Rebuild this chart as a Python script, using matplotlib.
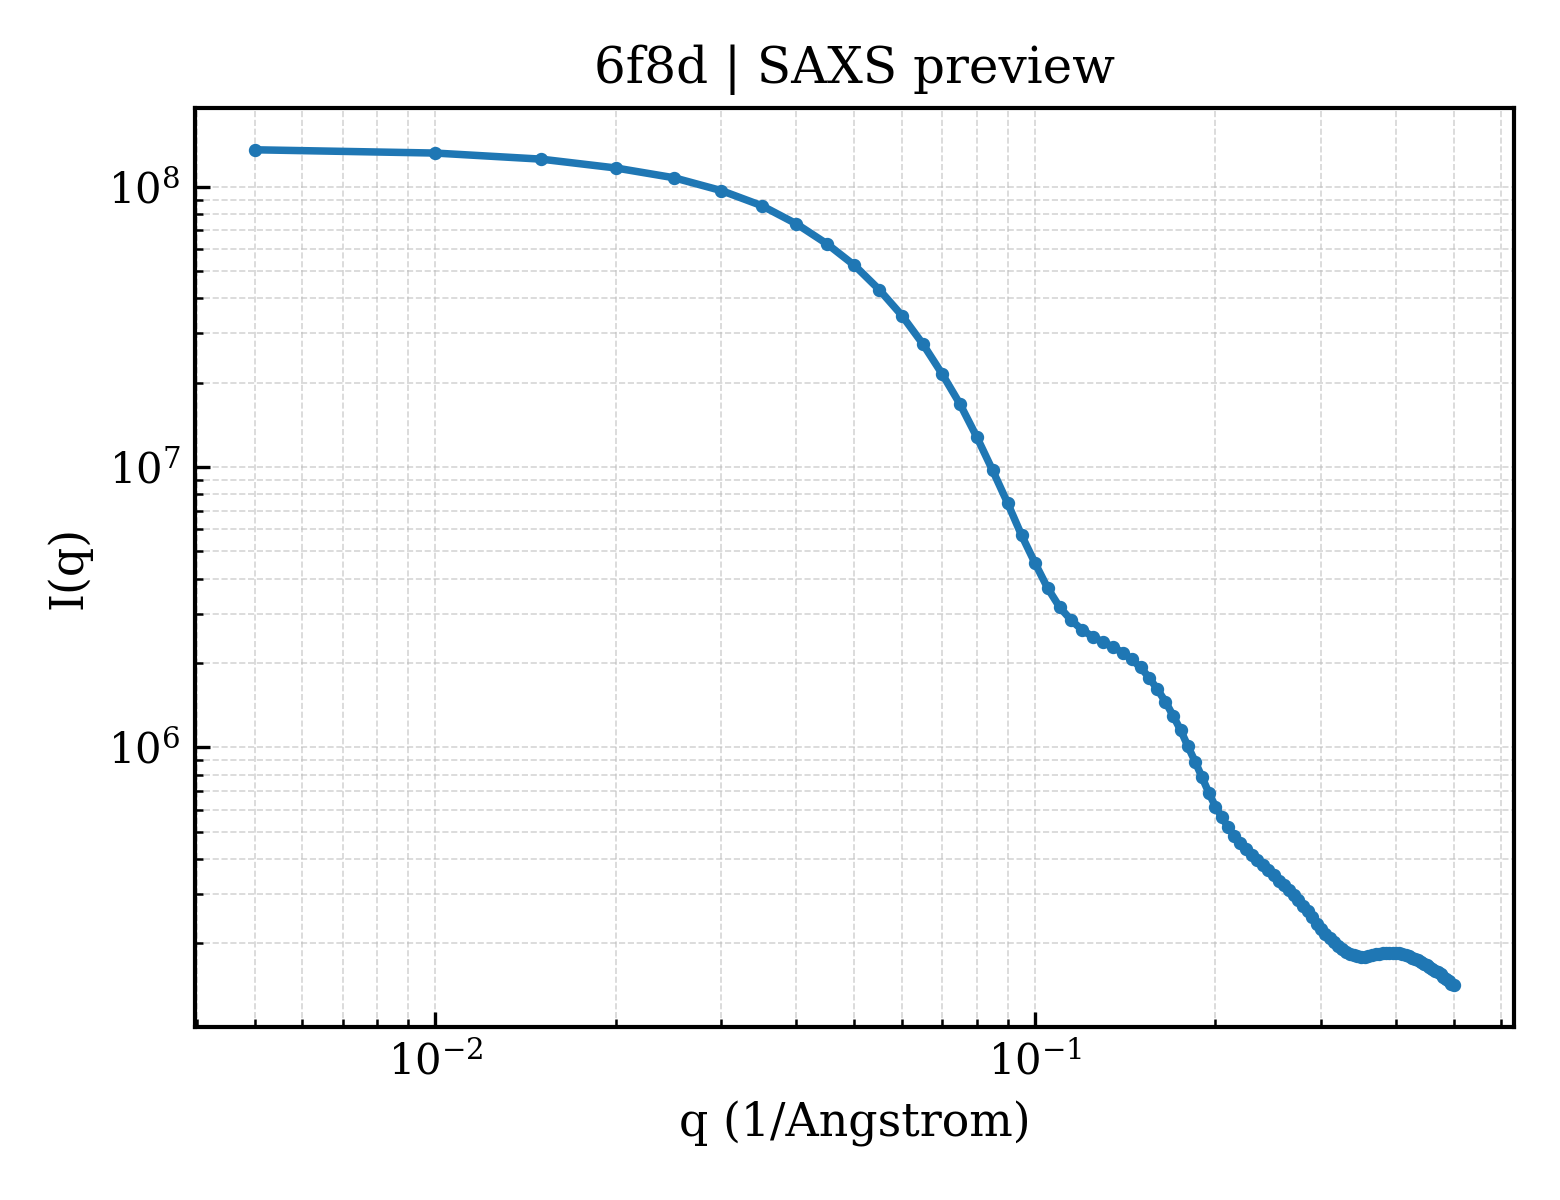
import matplotlib
matplotlib.use("Agg")
import matplotlib.pyplot as plt

plt.rcParams['font.family'] = 'DejaVu Serif'

title = "6f8d | SAXS preview"
xlabel = "q (1/Angstrom)"
ylabel = "I(q)"

q = [0.005, 0.010, 0.015, 0.020, 0.025, 0.030, 0.035, 0.040, 0.045, 0.050,
     0.055, 0.060, 0.065, 0.070, 0.075, 0.080, 0.085, 0.090, 0.095, 0.100,
     0.105, 0.110, 0.115, 0.120, 0.125, 0.130, 0.135, 0.140, 0.145, 0.150,
     0.155, 0.160, 0.165, 0.170, 0.175, 0.180, 0.185, 0.190, 0.195, 0.200,
     0.205, 0.210, 0.215, 0.220, 0.225, 0.230, 0.235, 0.240, 0.245, 0.250,
     0.255, 0.260, 0.265, 0.270, 0.275, 0.280, 0.285, 0.290, 0.295, 0.300,
     0.305, 0.310, 0.315, 0.320, 0.325, 0.330, 0.335, 0.340, 0.345, 0.350,
     0.355, 0.360, 0.365, 0.370, 0.375, 0.380, 0.385, 0.390, 0.395, 0.400,
     0.405, 0.410, 0.415, 0.420, 0.425, 0.430, 0.435, 0.440, 0.445, 0.450,
     0.455, 0.460, 0.465, 0.470, 0.475, 0.480, 0.485, 0.490, 0.495, 0.500]

intensity = [1.354e8, 1.318e8, 1.254e8, 1.166e8, 1.076e8, 9.68e7, 8.56e7, 7.37e7, 6.25e7, 5.24e7,
             4.29e7, 3.47e7, 2.75e7, 2.15e7, 1.676e7, 1.279e7, 9.73e6, 7.45e6, 5.71e6, 4.55e6,
             3.70e6, 3.16e6, 2.84e6, 2.62e6, 2.48e6, 2.37e6, 2.28e6, 2.18e6, 2.06e6, 1.93e6,
             1.775e6, 1.612e6, 1.458e6, 1.297e6, 1.152e6, 1.008e6, 8.90e5, 7.82e5, 6.89e5, 6.15e5,
             5.64e5, 5.19e5, 4.84e5, 4.55e5, 4.34e5, 4.15e5, 3.98e5, 3.80e5, 3.66e5, 3.51e5,
             3.35e5, 3.22e5, 3.09e5, 2.97e5, 2.85e5, 2.73e5, 2.62e5, 2.48e5, 2.35e5, 2.26e5,
             2.17e5, 2.09e5, 2.03e5, 1.966e5, 1.918e5, 1.872e5, 1.837e5, 1.814e5, 1.797e5, 1.789e5,
             1.795e5, 1.807e5, 1.819e5, 1.828e5, 1.837e5, 1.846e5, 1.851e5, 1.854e5, 1.855e5, 1.852e5,
             1.843e5, 1.834e5, 1.820e5, 1.800e5, 1.779e5, 1.760e5, 1.739e5, 1.718e5, 1.695e5, 1.673e5,
             1.648e5, 1.624e5, 1.600e5, 1.578e5, 1.554e5, 1.524e5, 1.494e5, 1.465e5, 1.437e5, 1.417e5]

fig, ax = plt.subplots(figsize=(5.2, 4), dpi=300)
ax.plot(q, intensity, marker='o', markersize=2.2, linewidth=1.8, color='#1f77b4')
ax.set_xscale('log')
ax.set_yscale('log')
ax.set_title(title, fontsize=12)
ax.set_xlabel(xlabel, fontsize=11)
ax.set_ylabel(ylabel, fontsize=11)
ax.tick_params(which='both', direction='in', labelsize=10)
ax.grid(True, which='both', linestyle='--', linewidth=0.4, color='#bbbbbb', alpha=0.6)
for s in ax.spines.values():
    s.set_linewidth(1.0)

fig.subplots_adjust(left=0.125, right=0.9705, top=0.91, bottom=0.144)
plt.savefig("out.png", dpi=300)
plt.close()
